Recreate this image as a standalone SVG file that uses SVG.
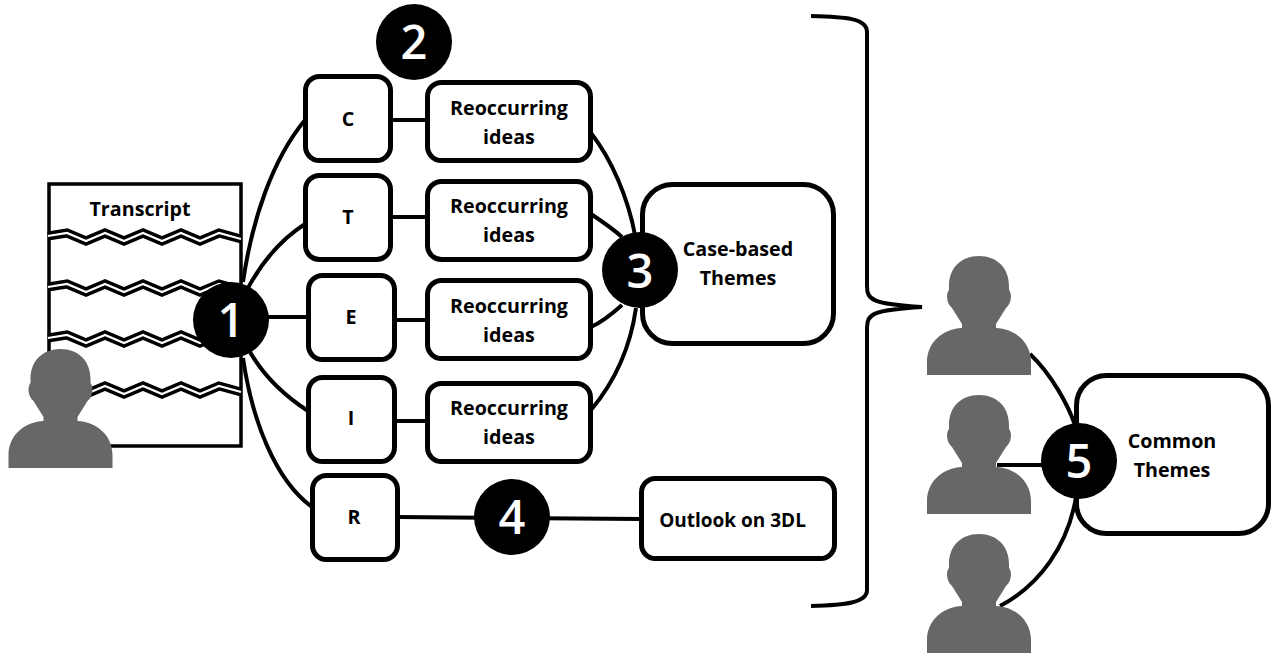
<svg xmlns="http://www.w3.org/2000/svg" width="1272" height="653" viewBox="0 0 1272 653">
<style>
.box{fill:#fff;stroke:#000;stroke-width:5}
.con{fill:none;stroke:#000;stroke-width:4}
.t{font-family:"Open Sans","Noto Sans",sans-serif;font-weight:700;font-size:19.700px;fill:#000;text-anchor:middle}
.s{font-size:19px}
.badge{fill:#000}
.n{font-family:"Open Sans","Noto Sans",sans-serif;font-size:47px;font-weight:600;fill:#fff;text-anchor:middle}
.zk{fill:none;stroke:#000;stroke-width:9}
.zw{fill:none;stroke:#fff;stroke-width:2.200}
.p{fill:#676767}
</style>
<defs>
<path id="person" d="M0,0C-18,0-30,12-30,30L-30,34C-33,37-33,47-27,52L-17,68V72C-38,73-52,88-52,106V119H52V106C52,88,38,73,17,72V68L27,52C33,47,33,37,30,34L30,30C30,12,18,0,0,0Z"/>
<polyline id="zig" points="48,-1 67,-4 86,4 105,-4 124,4 143,-4 162,4 181,-4 200,4 219,-4 241,2"/>
</defs>
<g id="connectors">
<path class="con" d="M243,282C252,220,272,160,305,120"/>
<path class="con" d="M248,288C262,262,280,240,305,224"/>
<path class="con" d="M268,317H308"/>
<path class="con" d="M250,352C265,378,285,396,308,411"/>
<path class="con" d="M243,358C252,420,275,480,312,507"/>
<path class="con" d="M391,120H427"/>
<path class="con" d="M391,217H427"/>
<path class="con" d="M395,320H427"/>
<path class="con" d="M395,421H427"/>
<path class="con" d="M398,517L641,519"/>
<path class="con" d="M591,133C612,160,628,198,635,235"/>
<path class="con" d="M591,214C600,220,612,228,622,237"/>
<path class="con" d="M591,327C602,322,612,314,622,305"/>
<path class="con" d="M591,410C612,385,630,350,636,308"/>
<path class="con" d="M1030,354C1052,375,1068,405,1075,425"/>
<path class="con" d="M997,465H1042"/>
<path class="con" d="M1000,606C1040,585,1068,545,1076,497"/>
<path class="con" d="M811,16C845,17 867,18 867,32V286C867,300 872,304 922,307C872,310 867,314 867,328V590C867,603 845,605 811,606"/>
</g>
<g id="transcript">
<rect class="box" x="49" y="184" width="192" height="262" style="stroke-width:3.500"/>
<use href="#zig" class="zk" y="237"/><use href="#zig" class="zw" y="237"/>
<use href="#zig" class="zk" y="288"/><use href="#zig" class="zw" y="288"/>
<use href="#zig" class="zk" y="339"/><use href="#zig" class="zw" y="339"/>
<use href="#zig" class="zk" y="390"/><use href="#zig" class="zw" y="390"/>
<text class="t" x="140" y="216">Transcript</text>
</g>
<g id="person-1"><use href="#person" class="p" x="60.500" y="349"/></g>
<g id="node-c"><rect class="box" x="305.500" y="76.500" width="85" height="84" rx="14"/><text class="t" x="348" y="126">C</text></g>
<g id="node-t"><rect class="box" x="305.500" y="175.500" width="85" height="84" rx="14"/><text class="t" x="348" y="224">T</text></g>
<g id="node-e"><rect class="box" x="308.500" y="275.500" width="86" height="84" rx="14"/><text class="t" x="351" y="324">E</text></g>
<g id="node-i"><rect class="box" x="308.500" y="377.500" width="86" height="84" rx="14"/><text class="t" x="351" y="425">I</text></g>
<g id="node-r"><rect class="box" x="312.500" y="475.500" width="85" height="84" rx="14"/><text class="t" x="354" y="524">R</text></g>
<g id="ideas-1"><rect class="box" x="427.500" y="82.500" width="163" height="78" rx="14"/><text class="t" x="509" y="115">Reoccurring</text><text class="t" x="509" y="144">ideas</text></g>
<g id="ideas-2"><rect class="box" x="427.500" y="181.500" width="163" height="78" rx="14"/><text class="t" x="509" y="213">Reoccurring</text><text class="t" x="509" y="242">ideas</text></g>
<g id="ideas-3"><rect class="box" x="427.500" y="280.500" width="163" height="78" rx="14"/><text class="t" x="509" y="313">Reoccurring</text><text class="t" x="509" y="342">ideas</text></g>
<g id="ideas-4"><rect class="box" x="427.500" y="383.500" width="163" height="78" rx="14"/><text class="t" x="509" y="415">Reoccurring</text><text class="t" x="509" y="444">ideas</text></g>
<g id="outlook"><rect class="box" x="641.500" y="478.500" width="193" height="80" rx="14"/><text class="t s" x="732.500" y="527">Outlook on 3DL</text></g>
<g id="case-themes"><rect class="box" x="642.500" y="184.500" width="191" height="159" rx="30"/><text class="t" x="738" y="256">Case-based</text><text class="t" x="738" y="285">Themes</text></g>
<g id="common-themes"><rect class="box" x="1076.500" y="375.500" width="192" height="158" rx="30"/><text class="t" x="1172" y="448">Common</text><text class="t" x="1172" y="477">Themes</text></g>
<g id="person-2"><use href="#person" class="p" x="979" y="256"/></g>
<g id="person-3"><use href="#person" class="p" x="979" y="395"/></g>
<g id="person-4"><use href="#person" class="p" x="979" y="534"/></g>
<g id="badge-1"><circle class="badge" cx="231" cy="320" r="38"/><text class="n" x="231" y="337">1</text></g>
<g id="badge-2"><circle class="badge" cx="414" cy="42" r="38"/><text class="n" x="414" y="59">2</text></g>
<g id="badge-3"><circle class="badge" cx="640" cy="270" r="38"/><text class="n" x="640" y="288">3</text></g>
<g id="badge-4"><circle class="badge" cx="512" cy="517" r="38"/><text class="n" x="512" y="534">4</text></g>
<g id="badge-5"><circle class="badge" cx="1079" cy="461" r="38"/><text class="n" x="1079" y="478">5</text></g>
</svg>
